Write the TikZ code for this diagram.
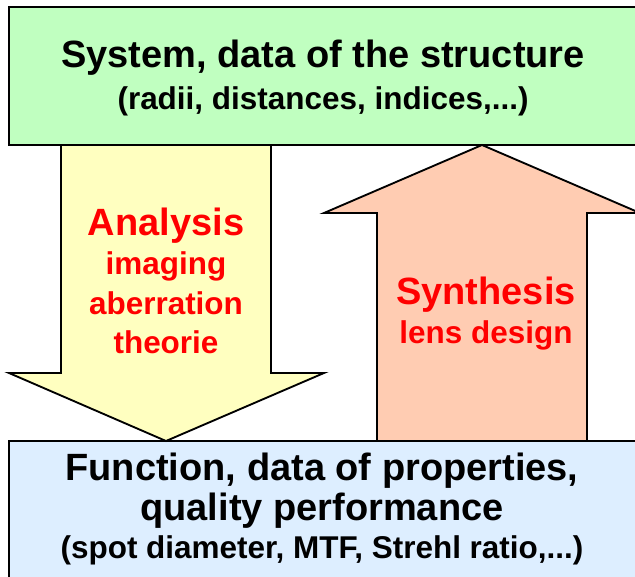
\documentclass[tikz,border=0pt]{standalone}
\usepackage{fontspec}
\setmainfont{Liberation Sans}

\definecolor{sysgreen}{RGB}{192,255,192}
\definecolor{funcblue}{RGB}{221,238,255}
\definecolor{anayellow}{RGB}{255,255,192}
\definecolor{synpeach}{RGB}{255,204,178}
\definecolor{txtred}{RGB}{255,0,0}

\begin{document}
\begin{tikzpicture}[x=0.75pt,y=-0.75pt,
  box/.style={draw=black,line width=1.4pt,line join=miter},
  big/.style={anchor=base,inner sep=0pt,font=\fontsize{28.5}{34}\selectfont\bfseries},
  small/.style={anchor=base,inner sep=0pt,font=\fontsize{23.6}{28}\selectfont\bfseries}]

\useasboundingbox (0,0) rectangle (635,577);
\clip (0,0) rectangle (635,577);

%---------------------------------
% CAJAS: SISTEMA Y FUNCION
%---------------------------------
\fill[white] (0,0) rectangle (635,577);
\draw[box,fill=sysgreen] (9,7) rectangle (640,145);
\draw[box,fill=funcblue] (9,441) rectangle (640,590);

\node[big] (systitle) at (323,68) {System, data of the structure};
\node[small] (sysdata) at (323,110) {(radii, distances, indices,...)};

\node[big] (functitle) at (322,480) {Function, data of properties,};
\node[big] (funcqual) at (322,520) {quality performance};
\node[small] (funcdata) at (322,558) {(spot diameter, MTF, Strehl ratio,...)};

%---------------------------------
% FLECHAS: ANALISIS Y SINTESIS
%---------------------------------
% flecha hacia abajo
\draw[box,fill=anayellow] (61,145) -- (61,373) -- (9,373) -- (166,441)
  -- (324,373) -- (271,373) -- (271,145) -- cycle;

% flecha hacia arriba
\draw[box,fill=synpeach] (377,441) -- (377,213) -- (324,213) -- (482,145)
  -- (640,213) -- (587,213) -- (587,441) -- cycle;

% etiquetas de las flechas
\node[big,text=txtred] (ana) at (166,236) {Analysis};
\node[small,text=txtred] (anaimg) at (166,275) {imaging};
\node[small,text=txtred] (anaab) at (166,314) {aberration};
\node[small,text=txtred] (anath) at (166,353) {theorie};

\node[big,text=txtred] (syn) at (486,305) {Synthesis};
\node[small,text=txtred] (synlens) at (486,343) {lens design};

\end{tikzpicture}
\end{document}
